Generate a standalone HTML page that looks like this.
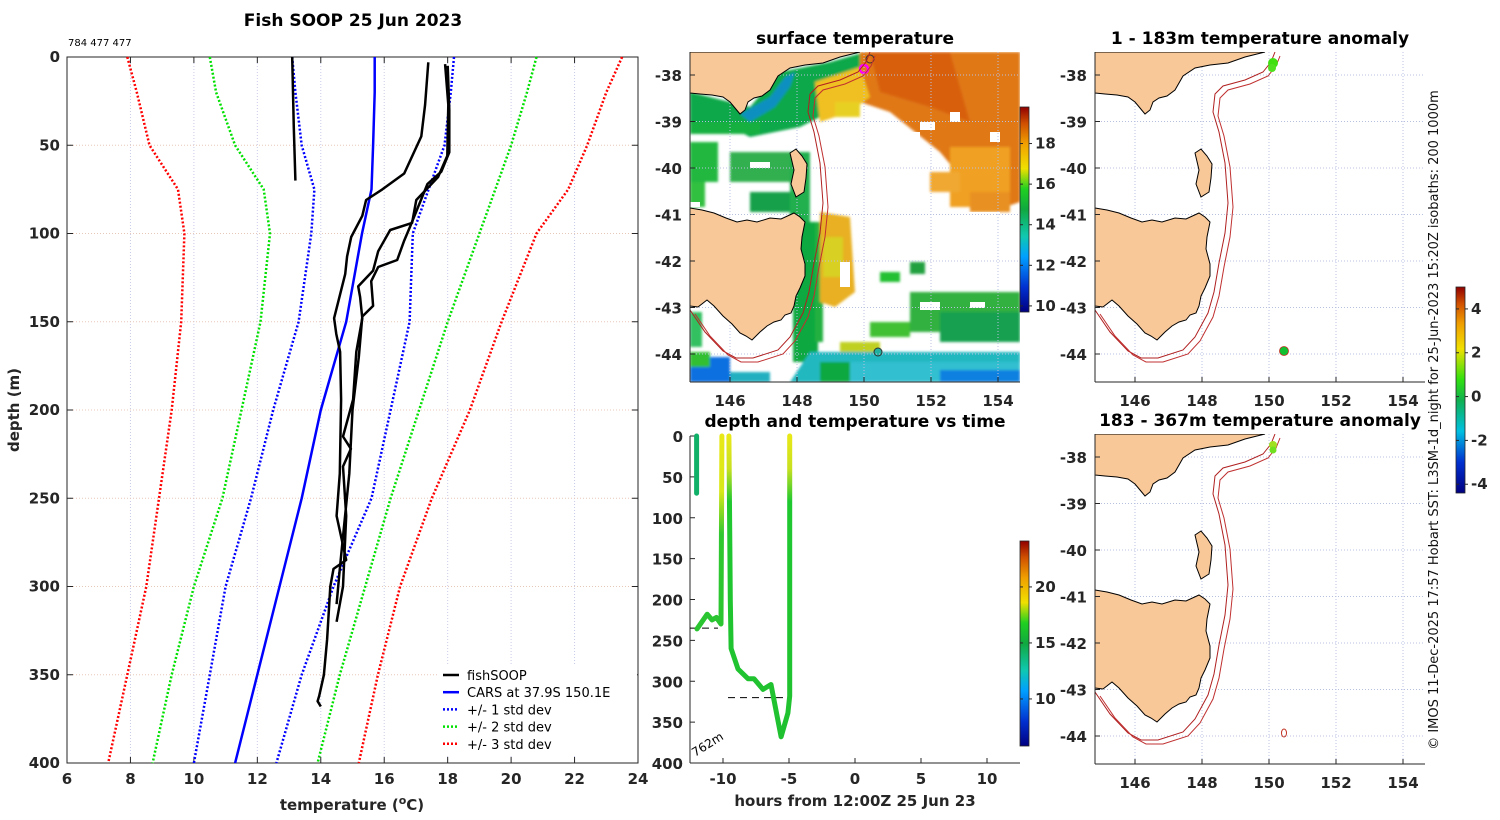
<!DOCTYPE html>
<html><head><meta charset="utf-8"><style>
html,body{margin:0;padding:0;background:#fff}
svg{display:block;font-family:"DejaVu Sans","Liberation Sans",sans-serif}
.tk{font-weight:bold;font-size:15px;fill:#262626}
.ttl{font-weight:bold;font-size:17px;fill:#000}
</style></head><body>
<svg id="fig" width="1500" height="820" viewBox="0 0 1500 820" xmlns="http://www.w3.org/2000/svg">
<defs>
<linearGradient id="cbSST" x1="0" y1="1" x2="0" y2="0">
<stop offset="0" stop-color="#000080"/><stop offset="0.12" stop-color="#0030d0"/><stop offset="0.27" stop-color="#00a0ff"/><stop offset="0.37" stop-color="#10c8b0"/><stop offset="0.5" stop-color="#10a840"/><stop offset="0.6" stop-color="#20d020"/><stop offset="0.7" stop-color="#f0e000"/><stop offset="0.82" stop-color="#f0a000"/><stop offset="0.92" stop-color="#d05000"/><stop offset="1" stop-color="#900000"/>
</linearGradient>
<linearGradient id="cbAnom" x1="0" y1="1" x2="0" y2="0">
<stop offset="0" stop-color="#000080"/><stop offset="0.15" stop-color="#0030d0"/><stop offset="0.3" stop-color="#00c0e0"/><stop offset="0.45" stop-color="#10b050"/><stop offset="0.55" stop-color="#30e010"/><stop offset="0.7" stop-color="#f0e000"/><stop offset="0.82" stop-color="#f0a000"/><stop offset="0.92" stop-color="#d05000"/><stop offset="1" stop-color="#900000"/>
</linearGradient>
<linearGradient id="trkA" gradientUnits="userSpaceOnUse" x1="0" y1="436" x2="0" y2="763">
<stop offset="0" stop-color="#e8e818"/><stop offset="0.17" stop-color="#d8e818"/><stop offset="0.3" stop-color="#30c830"/><stop offset="1" stop-color="#20c030"/>
</linearGradient>
<linearGradient id="trkB" gradientUnits="userSpaceOnUse" x1="0" y1="436" x2="0" y2="763">
<stop offset="0" stop-color="#e8e818"/><stop offset="0.1" stop-color="#c8e020"/><stop offset="0.2" stop-color="#20c830"/><stop offset="1" stop-color="#20c030"/>
</linearGradient>
<clipPath id="clipMap"><rect x="0" y="0" width="330" height="330"/></clipPath>
<filter id="soft"><feGaussianBlur stdDeviation="1.2"/></filter>
</defs>

<text class="ttl" x="353" y="26" text-anchor="middle">Fish SOOP 25 Jun 2023</text>
<text x="68" y="46" font-size="10" fill="#000">784 477 477</text>
<g id="left"></g>
<g id="sst"></g>
<g id="dvt"></g>
<g id="an1"></g>
<g id="an2"></g>
<text transform="translate(1438,420) rotate(-90)" text-anchor="middle" font-size="13" fill="#111">© IMOS 11-Dec-2025 17:57 Hobart SST: L3SM-1d_night for 25-Jun-2023 15:20Z isobaths: 200  1000m</text>
</svg>
<script>
// ---- profile data (temperature °C at depth m) ----
const stdDepths = [0,20,50,75,100,150,200,250,300,350,400];
const carsT   = [15.7,15.7,15.65,15.6,15.3,14.8,14.0,13.4,12.7,12.0,11.3];
const minus1T = [13.1,13.2,13.4,13.8,13.7,13.3,12.5,11.8,11.0,10.5,10.0];
const plus1T  = [18.2,18.1,17.9,17.4,16.9,16.8,16.2,15.6,14.4,13.4,12.6];
const minus2T = [10.5,10.7,11.3,12.2,12.4,12.1,11.5,10.9,10.0,9.3,8.7];
const plus2T  = [20.8,20.5,20.0,19.5,19.0,18.0,17.1,16.2,15.4,14.6,13.9];
const minus3T = [7.9,8.2,8.6,9.5,9.7,9.6,9.3,8.9,8.5,7.9,7.3];
const plus3T  = [23.5,23.0,22.4,21.8,20.8,19.7,18.7,17.5,16.5,15.8,15.2];
const prof1D = [0,40,70], prof1T = [13.1,13.15,13.2];
const prof2D = [3,27,45,66,75,81,90,102,113,123,148,157,167,194,236,260,285,290,300,330,350,362,365,368];
const prof2T = [17.39,17.29,17.17,16.63,15.94,15.43,15.31,14.96,14.83,14.77,14.42,14.49,14.61,14.64,14.6,14.5,14.8,14.4,14.3,14.2,14.1,13.95,13.9,14.0];
const prof3D = [4,27,56,68,81,94,98,110,121,130,136,148,167,194,215,222,232,260,300,320];
const prof3T = [17.92,18.02,17.99,17.70,17.01,16.88,16.19,15.81,15.65,15.18,15.24,15.31,15.12,15.02,14.7,14.95,14.7,14.8,14.7,14.5];
const prof4D = [5,30,54,65,72,96,104,115,119,127,141,147,170,200,236,290,310];
const prof4T = [18.0,18.05,18.05,17.80,17.36,16.82,16.63,16.41,15.81,15.59,15.65,15.31,15.2,15.0,14.9,14.6,14.5];
const tTicks = [6,8,10,12,14,16,18,20,22,24];
const dTicks = [0,50,100,150,200,250,300,350,400];

// ---- depth vs time track ----
const trkH = [-11.97,-11.2,-10.83,-10.5,-10.15,-10.08];
const trkD = [236,218,225,222,230,0];
const trk2H = [-9.55,-9.45,-9.39,-8.86,-8.1,-7.65,-6.97,-6.36,-5.6,-5.08,-4.95,-4.95];
const trk2D = [0,200,260,285,297,297,310,304,368,339,318,0];
const seg0H = [-12.0,-12.0], seg0D = [0,70];
const hTicks = [-10,-5,0,5,10];

// ---- map ticks ----
const lonTicks = [146,148,150,152,154];
const latTicks = [-38,-39,-40,-41,-42,-43,-44];
const sstTicks = [10,12,14,16,18];
const trkCbTicks = [10,15,20];
const anomTicks = [-4,-2,0,2,4];

const NS='http://www.w3.org/2000/svg';
function mk(parent,tag,attrs,text){const e=document.createElementNS(NS,tag);for(const k in attrs)e.setAttribute(k,attrs[k]);if(text!==undefined)e.textContent=text;parent.appendChild(e);return e;}

// ===== LEFT PROFILE PLOT =====
const L=document.getElementById('left');
const X0=67,X1=638,Y0=57,Y1=763;
const xT=t=>X0+(t-6)*(X1-X0)/18, yD=d=>Y0+d*(Y1-Y0)/400;
tTicks.forEach(t=>{
 if(t>6&&t<24){const g=mk(L,'line',{x1:xT(t),x2:xT(t),y1:Y0,y2:Y1,stroke:'#c8cbe8','stroke-dasharray':'1,2','stroke-width':1});
 }
 mk(L,'line',{x1:xT(t),x2:xT(t),y1:Y0,y2:Y0+6,stroke:'#262626'});
 mk(L,'line',{x1:xT(t),x2:xT(t),y1:Y1,y2:Y1-6,stroke:'#262626'});
 const lb=mk(L,'text',{x:xT(t),y:784,'text-anchor':'middle',class:'tk'},t);
 
});
dTicks.forEach(d=>{
 if(d>0&&d<400){const g=mk(L,'line',{x1:X0,x2:X1,y1:yD(d),y2:yD(d),stroke:'#e8c8b8','stroke-dasharray':'1,2'});
 }
 mk(L,'line',{x1:X0,x2:X0+6,y1:yD(d),y2:yD(d),stroke:'#262626'});
 mk(L,'line',{x1:X1,x2:X1-6,y1:yD(d),y2:yD(d),stroke:'#262626'});
 const lb=mk(L,'text',{x:60,y:yD(d)+5,'text-anchor':'end',class:'tk'},d);
 
});
const box=mk(L,'rect',{x:X0,y:Y0,width:X1-X0,height:Y1-Y0,fill:'none',stroke:'#262626'});

function prof(Ts,Ds,col,w,dash,name){
 const pts=Ts.map((t,i)=>xT(t).toFixed(1)+','+yD(Ds[i]).toFixed(1)).join(' ');
 const p=mk(L,'polyline',{points:pts,fill:'none',stroke:col,'stroke-width':w,'stroke-linejoin':'round'});
 if(dash)p.setAttribute('stroke-dasharray',dash);
 
}
prof(minus3T,stdDepths,'#ff0000',2.5,'2,2','minus-3-std-line');
prof(plus3T,stdDepths,'#ff0000',2.5,'2,2','plus-3-std-line');
prof(minus2T,stdDepths,'#00e000',2.5,'2,2','minus-2-std-line');
prof(plus2T,stdDepths,'#00e000',2.5,'2,2','plus-2-std-line');
prof(minus1T,stdDepths,'#0000ff',2.5,'2,2','minus-1-std-line');
prof(plus1T,stdDepths,'#0000ff',2.5,'2,2','plus-1-std-line');
prof(carsT,stdDepths,'#0000ff',2.5,null,'cars-mean-line');
prof(prof1T,prof1D,'#000',2.5,null,'fishsoop-profile-1');
prof(prof2T,prof2D,'#000',2.5,null,'fishsoop-profile-2');
prof(prof3T,prof3D,'#000',2.5,null,'fishsoop-profile-3');
prof(prof4T,prof4D,'#000',2.5,null,'fishsoop-profile-4');
const xl=mk(L,'text',{x:352,y:810,'text-anchor':'middle',class:'tk','font-size':'16'});
xl.innerHTML='temperature (<tspan dy="-6" font-size="11">o</tspan><tspan dy="6">C)</tspan>';

const yl=mk(L,'text',{transform:'translate(19,410) rotate(-90)','text-anchor':'middle',class:'tk','font-size':'16'},'depth (m)');

// legend
const lg=mk(L,'g',{});
mk(lg,'rect',{x:437,y:664,width:200,height:90,fill:'#fff'});
const legItems=[['fishSOOP','#000',null],['CARS at 37.9S 150.1E','#0000ff',null],['+/- 1 std dev','#0000ff','2,2'],['+/- 2 std dev','#00e000','2,2'],['+/- 3 std dev','#ff0000','2,2']];
legItems.forEach((it,i)=>{
 const y=675+i*17.2;
 const e=mk(lg,'g',{});
 const ln=mk(e,'line',{x1:443,x2:459,y1:y,y2:y,stroke:it[1],'stroke-width':2.5});
 if(it[2])ln.setAttribute('stroke-dasharray',it[2]);
 mk(e,'text',{x:467,y:y+5,'font-size':'13',fill:'#000'},it[0]);
});

// ===== MAP HELPERS =====
const mainland=[[0,0],[0,41],[10,42],[22,43],[33,45],[40,50],[45,56],[50,62],[55,58],[58,50],[64,46],[72,44],[80,38],[88,24],[100,16],[115,13],[133,11],[150,5],[162,2],[170,0]];
const tas=[[0,156],[12,158],[24,161],[36,166],[47,170],[57,168],[67,170],[80,166],[91,167],[104,161],[110,165],[115,170],[112,185],[111,197],[115,212],[115,224],[110,236],[106,244],[104,254],[101,261],[95,263],[91,268],[84,270],[77,274],[70,280],[62,288],[56,284],[50,281],[42,272],[33,264],[24,254],[17,248],[8,255],[0,254]];
const flinders=[[100,101],[106,97],[112,104],[117,112],[116,126],[114,140],[106,145],[101,132],[104,118]];
const iso=[[180,0],[176,10],[168,20],[150,28],[128,34],[120,42],[118,60],[124,80],[130,111],[133,151],[130,181],[124,211],[119,240],[113,261],[100,285],[88,298],[63,306],[46,306],[33,299],[15,280],[0,258]];
const pstr=a=>a.map(p=>p[0]+','+p[1]).join(' ');
function drawMap(id,ox,oy,title,sst){
 const G=document.getElementById(id);
 const t=mk(G,'text',{x:ox+165,y:oy-8,'text-anchor':'middle',class:'ttl'},title);
 
 const inner=mk(G,'g',{transform:`translate(${ox},${oy})`});
 const c=mk(inner,'g',{'clip-path':'url(#clipMap)'});
 if(sst) sst(c);
 lonTicks.forEach(l=>{const x=40+(l-146)*33.5;mk(c,'line',{x1:x,x2:x,y1:0,y2:330,stroke:'#b8c0e0','stroke-dasharray':'1,2'});});
 latTicks.forEach(l=>{const y=23+(-38-l)*46.5;mk(c,'line',{x1:0,x2:330,y1:y,y2:y,stroke:'#b8c0e0','stroke-dasharray':'1,2'});});
 const ml=mk(c,'polygon',{points:pstr(mainland),fill:'#f9c898',stroke:'#000','stroke-width':1});
 
 const ts=mk(c,'polygon',{points:pstr(tas),fill:'#f9c898',stroke:'#000','stroke-width':1});
 
 mk(c,'polygon',{points:pstr(flinders),fill:'#f9c898',stroke:'#000','stroke-width':1});
 const i1=mk(c,'polyline',{points:pstr(iso),fill:'none',stroke:'#b02020','stroke-width':1});
 
 const i2=mk(c,'polyline',{points:pstr(iso.map(p=>[p[0]+5,p[1]+4])),fill:'none',stroke:'#c03030','stroke-width':1});
 
 mk(inner,'line',{x1:0,x2:0,y1:0,y2:330,stroke:'#262626'});
 mk(inner,'line',{x1:0,x2:330,y1:330,y2:330,stroke:'#262626'});
 lonTicks.forEach(l=>{const x=40+(l-146)*33.5;mk(inner,'line',{x1:x,x2:x,y1:330,y2:325,stroke:'#262626'});
  const lb=mk(G,'text',{x:ox+x,y:oy+354,'text-anchor':'middle',class:'tk'},l);
  });
 latTicks.forEach(l=>{const y=23+(-38-l)*46.5;mk(inner,'line',{x1:0,x2:5,y1:y,y2:y,stroke:'#262626'});
  const lb=mk(G,'text',{x:ox-8,y:oy+y+6,'text-anchor':'end',class:'tk'},l);
  });
 return c;
}
function sstField(c){
 const g=mk(c,'g',{filter:'url(#soft)'});
 const R=(x,y,w,h,col)=>mk(g,'rect',{x,y,width:w,height:h,fill:col});
 mk(g,'polygon',{points:'0,40 60,55 90,20 140,10 175,0 175,40 140,60 110,75 60,85 30,70 0,70',fill:'#10a848'});
 mk(g,'polygon',{points:'50,62 80,45 95,25 105,20 100,35 85,55 60,70',fill:'#1090c0'});
 R(0,70,70,12,'#18b040');
 mk(g,'polygon',{points:'170,0 330,0 330,150 300,160 250,100 200,60 170,50',fill:'#e07818'});
 mk(g,'polygon',{points:'180,0 260,0 280,70 240,55 190,40',fill:'#d86010'});
 mk(g,'polygon',{points:'125,30 170,15 180,45 160,60 130,70',fill:'#f0c020'});
 R(145,50,25,15,'#e8d020');
 R(260,95,60,60,'#f0a020');
 R(240,120,30,20,'#f0a830');
 R(280,140,40,20,'#e89020');
 R(0,90,28,40,'#20b840');R(40,100,60,30,'#30b050');R(60,140,40,20,'#18a048');R(0,130,15,25,'#30c040');
 R(45,180,30,10,'#20b060');R(100,100,20,70,'#20b050');
 R(103,170,25,140,'#10a840');R(125,170,8,120,'#20b040');
 mk(g,'polygon',{points:'130,160 160,165 165,240 145,255 130,250',fill:'#e8b020'});
 R(133,185,20,40,'#d8d020');
 R(190,220,20,10,'#20c030');R(220,210,15,12,'#20a040');R(280,300,40,20,'#10a040');
 R(220,240,110,40,'#30b040');R(250,260,80,30,'#18a050');R(180,270,40,15,'#40c030');
 R(150,290,40,10,'#c0d020');
 mk(g,'polygon',{points:'120,300 330,300 330,330 100,330',fill:'#20b8c0'});
 R(160,310,170,20,'#30c0d0');R(250,318,80,12,'#1080e0');R(0,305,40,25,'#1070e0');R(0,300,20,15,'#30c030');
 R(130,310,30,20,'#10a840');R(40,320,40,10,'#20b0c0');R(0,260,12,35,'#30c060');
 const w=mk(c,'g',{});
 [[200,80,30,10],[230,70,15,8],[260,60,10,10],[300,80,10,10],[215,100,25,12],[150,210,10,25],[0,150,10,5],[60,110,20,6],[270,160,40,20],[230,250,20,8],[280,250,15,6],[200,235,15,8]].forEach(r=>mk(w,'rect',{x:r[0],y:r[1],width:r[2],height:r[3],fill:'#fff'}));
 const m1=mk(c,'circle',{cx:174,cy:17,r:4,fill:'none',stroke:'#ff00ff','stroke-width':2.5});
 
 mk(c,'circle',{cx:180,cy:7,r:4,fill:'none',stroke:'#333','stroke-width':1});
 mk(c,'circle',{cx:188,cy:300,r:4,fill:'#20b0a0',stroke:'#333','stroke-width':1});
}
drawMap('sst',690,52,'surface temperature',sstField);
const a1=drawMap('an1',1095,52,'1 - 183m temperature anomaly',null);
mk(a1,'circle',{cx:178,cy:11,r:5,fill:'#40e010'});mk(a1,'circle',{cx:177,cy:16,r:4,fill:'#50e020'});
mk(a1,'circle',{cx:189,cy:299,r:4.5,fill:'#10c030',stroke:'#c03020','stroke-width':0.8});
const a2=drawMap('an2',1095,434,'183 - 367m temperature anomaly',null);
mk(a2,'circle',{cx:178,cy:11,r:4,fill:'#a0e020'});mk(a2,'circle',{cx:178,cy:16,r:3.5,fill:'#70e020'});
mk(a2,'ellipse',{cx:189,cy:299,rx:2.5,ry:4,fill:'none',stroke:'#c03020','stroke-width':1});

function cbar(gid,x,y0,y1,grad,vmin,vmax,ticks,name){
 const G=document.getElementById(gid);
 const cb=mk(G,'g',{});
 mk(cb,'rect',{x,y:y0,width:9,height:y1-y0,fill:'url(#'+grad+')',stroke:'#262626','stroke-width':0.8});
 ticks.forEach(v=>{const y=y1-(v-vmin)/(vmax-vmin)*(y1-y0);
  mk(cb,'line',{x1:x,x2:x+3,y1:y,y2:y,stroke:'#262626'});mk(cb,'line',{x1:x+9,x2:x+12,y1:y,y2:y,stroke:'#262626'});
  mk(cb,'text',{x:x+15,y:y+5,class:'tk','font-size':'13'},v);});
}
cbar('sst',1020,107,312,'cbSST',9.7,19.8,sstTicks,'sst-colorbar');
cbar('an1',1456,287,493,'cbAnom',-4.4,5.0,anomTicks,'anomaly-colorbar');

// ===== DEPTH VS TIME =====
const D=document.getElementById('dvt');
const DX0=690,DX1=1020,DY0=436,DY1=763;
const xH=h=>855+h*13.2, yP=d=>DY0+d*(DY1-DY0)/400;
const dt=mk(D,'text',{x:855,y:427,'text-anchor':'middle',class:'ttl'},'depth and temperature vs time');

mk(D,'line',{x1:DX0,x2:DX0,y1:DY0,y2:DY1,stroke:'#262626'});
mk(D,'line',{x1:DX0,x2:DX1,y1:DY1,y2:DY1,stroke:'#262626'});
dTicks.forEach(d=>{mk(D,'line',{x1:DX0,x2:DX0+5,y1:yP(d),y2:yP(d),stroke:'#262626'});
 const lb=mk(D,'text',{x:683,y:yP(d)+6,'text-anchor':'end',class:'tk'},d);
 });
hTicks.forEach(h=>{mk(D,'line',{x1:xH(h),x2:xH(h),y1:DY1,y2:DY1-5,stroke:'#262626'});
 const lb=mk(D,'text',{x:xH(h),y:784,'text-anchor':'middle',class:'tk'},h);
 });
const hl=mk(D,'text',{x:855,y:806,'text-anchor':'middle',class:'tk','font-size':'16'},'hours from 12:00Z 25 Jun 23');

mk(D,'line',{x1:690,x2:718,y1:yP(235),y2:yP(235),stroke:'#000','stroke-dasharray':'7,5'});
mk(D,'line',{x1:728,x2:790,y1:yP(320),y2:yP(320),stroke:'#000','stroke-dasharray':'7,5'});
function trk(H,Dp,stroke,name){
 const p=mk(D,'polyline',{points:H.map((h,i)=>xH(h).toFixed(1)+','+yP(Dp[i]).toFixed(1)).join(' '),fill:'none',stroke,'stroke-width':5,'stroke-linejoin':'round','stroke-linecap':'round'});
 
}
trk(seg0H,seg0D,'#10b068','track-segment-1');
trk(trkH,trkD,'url(#trkA)','track-segment-2');
trk(trk2H,trk2D,'url(#trkB)','track-segment-3');
mk(D,'text',{transform:'translate(695,757) rotate(-32)','font-size':'12',fill:'#000'},'762m');
cbar('dvt',1020,541,746,'cbSST',5.8,24.1,trkCbTicks,'track-colorbar');
</script>
</body></html>
